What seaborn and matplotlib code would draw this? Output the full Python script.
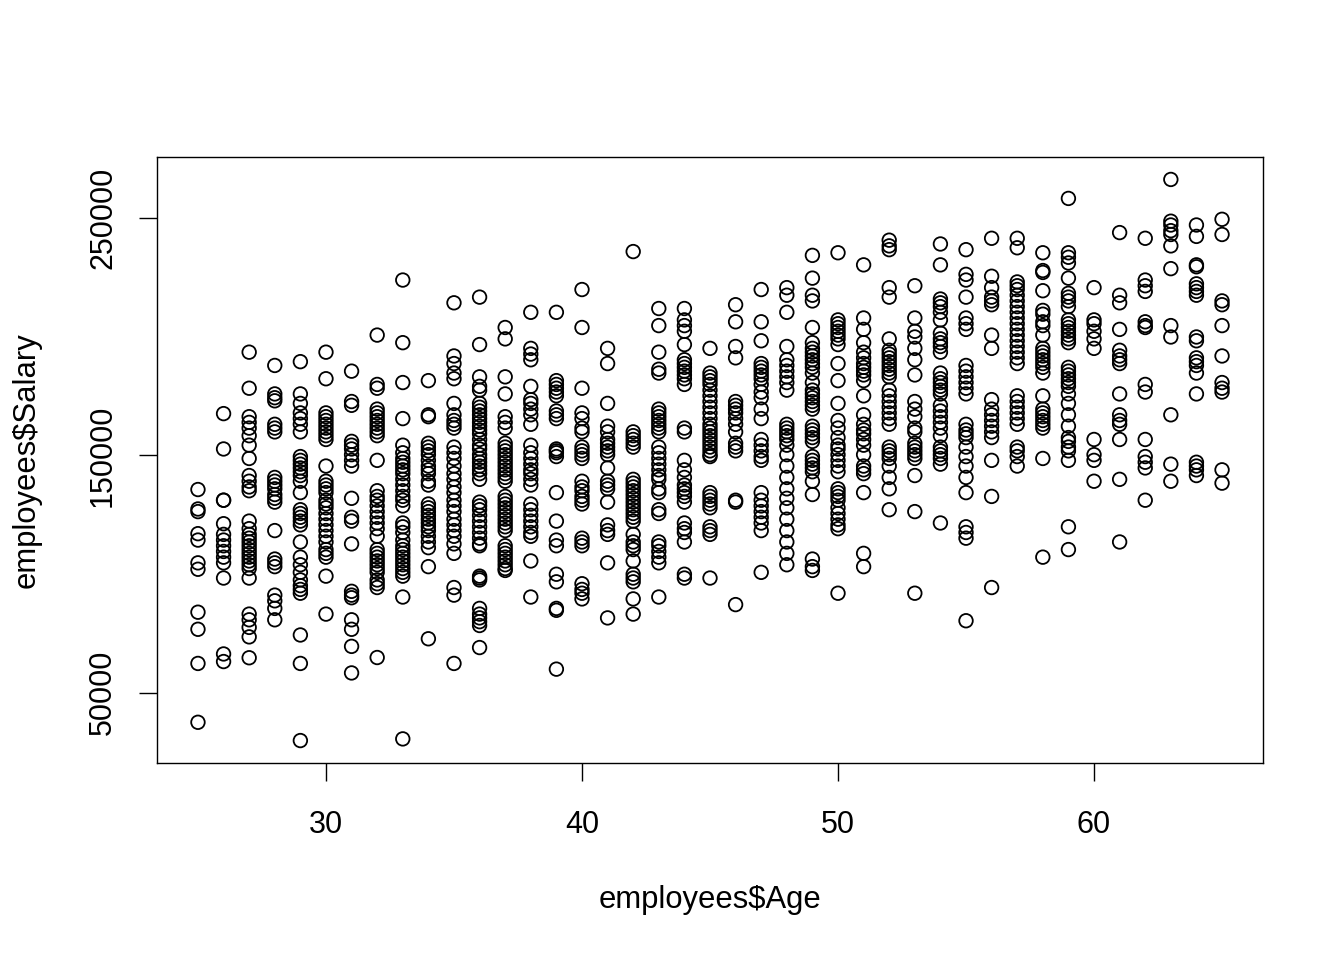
import numpy as np
import pandas as pd
import seaborn as sns
import matplotlib.pyplot as plt

# salaries, one list per age
sal_25 = [135600, 127400, 126300, 117000, 114300, 104700, 102000, 83900, 76700, 62300, 37500]
sal_26 = [167600, 152700, 131100, 131100, 121200, 116700, 114300, 111900, 109500, 107100, 104700, 98300, 66300, 63100]
sal_27 = [193500, 178300, 166300, 163900, 161500, 158300, 154300, 148700, 141500, 139100, 136700, 135100, 122300, 119100,
          116700, 115100, 113500, 111900, 110300, 108700, 107100, 105500, 103900, 102300, 98300, 83100, 80700, 77500, 73500, 64700]
sal_28 = [187900, 175900, 174300, 173000, 163100, 161500, 159900, 140700, 139100, 137500, 135900, 133500, 131900, 130300,
          118300, 106300, 104700, 103100, 91100, 88700, 85500, 80700]
sal_29 = [189500, 175900, 171900, 167900, 165500, 163100, 159900, 149500, 147900, 146300, 144700, 143100, 141500, 139100,
          134300, 127100, 125500, 123900, 122300, 120700, 113500, 107100, 103900, 100700, 97500, 95100, 93500, 91900, 74300, 62300, 29800]
sal_30 = [193500, 182300, 167900, 166300, 164700, 163100, 161500, 159900, 158300, 156700, 145500, 139100, 137500, 135900,
          134300, 131100, 129500, 127900, 125500, 123100, 120700, 118300, 115900, 113500, 110300, 108700, 107100, 99100, 83100]
sal_31 = [185500, 172700, 171100, 155900, 154300, 152700, 150300, 147900, 145500, 131900, 123900, 122300, 112700, 92700,
          91100, 90000, 80700, 76700, 69500, 58300]
sal_32 = [200700, 179900, 178300, 169500, 167900, 166300, 164700, 163100, 161500, 159900, 158300, 147900, 135100, 132700,
          131100, 128700, 126300, 123900, 121500, 119100, 115900, 110300, 108700, 107100, 105500, 103900, 102300, 100700,
          97500, 95900, 94300, 64800]
sal_33 = [223900, 197500, 180700, 165500, 154300, 151100, 148700, 147100, 145500, 143900, 142300, 139900, 137500, 135100,
          132700, 131100, 128700, 121500, 119900, 117500, 114300, 111900, 110300, 108700, 107100, 105500, 103900, 102300,
          100700, 99100, 90300, 30500]
sal_34 = [181500, 167100, 166300, 155100, 153500, 151900, 150300, 147900, 145500, 143900, 142300, 139100, 137500, 129500,
          127900, 126300, 124700, 123100, 121500, 119900, 118300, 115900, 113500, 111100, 103100, 72700]
sal_35 = [214300, 191900, 188700, 184700, 182300, 171900, 167100, 164700, 163100, 161500, 153500, 151100, 148700, 145500,
          142300, 139900, 136700, 134300, 131100, 128700, 126300, 123100, 120700, 118300, 115900, 112700, 108700, 94300, 91100, 62300]
sal_36 = [216700, 196700, 183100, 179100, 177500, 171900, 170300, 168700, 167100, 165500, 163900, 162300, 160700, 159100,
          156700, 154300, 152700, 150300, 148700, 147100, 145500, 143900, 142300, 139900, 130300, 128700, 127100, 124700,
          122300, 119900, 117500, 115100, 112700, 111900, 99100, 98300, 97500, 85500, 83100, 81500, 79900, 78300, 69000]
sal_37 = [203900, 199100, 183100, 175900, 166300, 163900, 161500, 155100, 153500, 151900, 150300, 148700, 147100, 145500,
          143900, 142300, 140700, 139100, 132700, 131100, 129500, 127900, 126300, 124700, 123100, 121500, 119900, 118300,
          111900, 110300, 108700, 107100, 105500, 103900, 102300, 101500]
sal_38 = [210300, 195100, 192700, 190300, 179100, 173500, 171900, 169500, 167100, 163100, 154300, 151100, 148700, 146300,
          143900, 142300, 139900, 137500, 129500, 127100, 124700, 122300, 119900, 117500, 115900, 105500, 90300]
sal_39 = [210300, 181500, 179900, 178300, 176700, 175100, 168700, 167100, 165500, 152700, 151900, 151100, 149500, 134300,
          122300, 114300, 111900, 99900, 96700, 85500, 84700, 59900]
sal_40 = [219900, 203900, 178300, 167900, 165500, 161500, 159900, 153500, 151900, 150300, 148700, 139100, 136700, 135100,
          132700, 131100, 129500, 115100, 113500, 111900, 95900, 93500, 91900, 89500]
sal_41 = [195100, 188700, 171900, 162300, 159900, 156700, 155100, 153500, 151900, 150300, 144700, 139100, 137500, 135900,
          130300, 120700, 118300, 116700, 104700, 81500]
sal_42 = [235900, 159900, 158300, 156700, 155100, 153500, 139900, 138300, 136700, 135100, 133500, 131900, 130300, 128700,
          127100, 125500, 123900, 122300, 116700, 113500, 111900, 110300, 105500, 99900, 98300, 96700, 89500, 83100]
sal_43 = [211900, 204700, 193500, 186300, 184700, 169500, 167900, 166300, 164700, 163100, 161500, 159900, 153500, 151100,
          148700, 146300, 143900, 141500, 139900, 135900, 134300, 127100, 125500, 113500, 111900, 109500, 107100, 104700, 90300]
sal_44 = [211900, 207100, 204700, 202300, 196700, 190300, 188700, 187100, 185500, 183900, 182300, 179900, 161500, 159900,
          147900, 143900, 140700, 137500, 135900, 134300, 132700, 130300, 121500, 119100, 117500, 113500, 99900, 98300]
sal_45 = [195100, 184700, 183100, 181500, 179900, 177500, 175100, 172700, 170300, 167900, 165500, 163100, 161500, 159900,
          158300, 156700, 155100, 153500, 151900, 150300, 149500, 134300, 132700, 131100, 129500, 127900, 119900, 118300,
          116700, 98300]
sal_46 = [213500, 206300, 195900, 191100, 172700, 171100, 169500, 167900, 165500, 163100, 159900, 155100, 153500, 151900,
          131100, 130300, 87100]
sal_47 = [219900, 206300, 198300, 188700, 187100, 185500, 183900, 182300, 179900, 176700, 174300, 169500, 165500, 156700,
          154300, 151900, 149500, 147900, 134300, 131100, 128700, 126300, 123900, 121500, 118300, 100700]
sal_48 = [220700, 217500, 210300, 195900, 190300, 187900, 185500, 183100, 180700, 177500, 163100, 161500, 159900, 158300,
          156700, 154300, 150300, 145500, 140700, 135900, 131900, 127900, 123100, 118300, 113500, 108700, 103900]
sal_49 = [234300, 224700, 217500, 215100, 203900, 197500, 195100, 193500, 191900, 190300, 188700, 187100, 184700, 180700,
          177500, 175900, 174300, 172700, 171100, 169500, 162300, 160700, 159100, 157500, 155900, 149500, 147900, 146300,
          144700, 143100, 139100, 133500, 106300, 103100, 101500]
sal_50 = [235400, 207100, 205500, 203900, 202300, 200700, 199100, 196700, 188700, 181500, 171900, 164700, 161500, 157500,
          154300, 152700, 150300, 147900, 145500, 143100, 135900, 134300, 132700, 131100, 127900, 125500, 123100, 120700,
          119100, 91900]
sal_51 = [230300, 207900, 203100, 197500, 193500, 191100, 188700, 187100, 185500, 183900, 181500, 175100, 167100, 163100,
          160700, 159100, 156700, 154300, 150300, 145500, 143900, 142300, 134300, 108700, 103100]
sal_52 = [240700, 238300, 236700, 220700, 216700, 199100, 194300, 192700, 191100, 189500, 187900, 186300, 184700, 183100,
          177500, 175100, 172700, 170300, 167900, 165500, 163100, 153500, 151900, 150300, 148700, 145500, 140700, 135900, 127100]
sal_53 = [221500, 207900, 202300, 199900, 195100, 190300, 183900, 172700, 169500, 166300, 161500, 159900, 155100, 153500,
          151900, 150300, 148700, 141500, 126300, 91900]
sal_54 = [239100, 230300, 215900, 214300, 212700, 210300, 207100, 201500, 199100, 197500, 195900, 193500, 184700, 182300,
          180700, 179100, 177500, 175900, 171100, 168700, 166300, 163900, 161500, 158300, 153500, 151900, 150300, 148700,
          146300, 121500]
sal_55 = [236700, 226300, 223900, 216700, 207900, 205500, 203100, 187900, 185500, 183100, 180700, 178300, 175900, 163100,
          160700, 159100, 157500, 153500, 149500, 145500, 140700, 134300, 119900, 117500, 115100, 80300]
sal_56 = [241500, 225500, 220700, 216700, 215100, 213500, 200700, 195100, 173500, 169500, 167100, 164700, 162300, 159900,
          157500, 147900, 132700, 94300]
sal_57 = [241500, 237500, 223100, 221500, 219900, 217500, 215100, 212700, 210300, 207900, 205500, 203100, 200700, 198300,
          195900, 193500, 191100, 188700, 175100, 172700, 170300, 167900, 165500, 163100, 153500, 151900, 149500, 145500]
sal_58 = [235400, 227900, 227100, 219400, 211100, 209500, 206300, 204700, 200700, 195100, 193500, 191900, 190300, 188700,
          187100, 184700, 175100, 169500, 167900, 166300, 164700, 163100, 161500, 148700, 107100]
sal_59 = [258300, 235400, 233500, 231100, 224700, 218300, 216700, 215100, 212700, 207100, 205500, 203900, 202300, 200700,
          199100, 197500, 187100, 185500, 183900, 182300, 180700, 179100, 175900, 171900, 167100, 162300, 157500, 155900,
          153500, 151900, 147900, 119900, 110300]
sal_60 = [220700, 207100, 205500, 202300, 199100, 195100, 156700, 150300, 147900, 139100]
sal_61 = [243900, 217500, 214300, 203100, 194300, 191900, 190300, 188700, 175900, 167100, 164700, 163100, 156700, 139900, 113500]
sal_62 = [241500, 223900, 221500, 219100, 206300, 204700, 203900, 179900, 176700, 156700, 149500, 147100, 144700, 131100]
sal_63 = [266300, 248700, 247100, 244700, 243100, 238300, 228700, 204700, 199900, 167100, 146300, 139100]
sal_64 = [247100, 242300, 230300, 229500, 222300, 220700, 219100, 217500, 199900, 198300, 191100, 189500, 187900, 184700,
          175900, 147100, 145500, 143900, 141500]
sal_65 = [249500, 243100, 215100, 213500, 204700, 191900, 180700, 178300, 176700, 143900, 138300]

ages = list(range(25, 66))
salary_lists = [sal_25, sal_26, sal_27, sal_28, sal_29, sal_30, sal_31, sal_32, sal_33, sal_34,
                sal_35, sal_36, sal_37, sal_38, sal_39, sal_40, sal_41, sal_42, sal_43, sal_44,
                sal_45, sal_46, sal_47, sal_48, sal_49, sal_50, sal_51, sal_52, sal_53, sal_54,
                sal_55, sal_56, sal_57, sal_58, sal_59, sal_60, sal_61, sal_62, sal_63, sal_64, sal_65]

x_ticks = [30, 40, 50, 60]
y_ticks = [50000, 150000, 250000]

employees = pd.DataFrame({
    "Age": [a for a, s in zip(ages, salary_lists) for _ in s],
    "Salary": [v for s in salary_lists for v in s],
})

sns.set_style("ticks")
plt.rcParams["font.family"] = ["Liberation Sans", "DejaVu Sans"]

fig = plt.figure(figsize=(13.44, 9.6), dpi=100)
ax = fig.add_axes([157 / 1344, 1 - 763 / 960, (1263 - 157) / 1344, (763 - 157) / 960])

sns.scatterplot(data=employees, x="Age", y="Salary", ax=ax, marker="o", s=95,
                facecolor="none", edgecolor="black", linewidth=1.3)

# R style 4% padding
def pad(lo, hi):
    r = hi - lo
    return lo - 0.04 * r, hi + 0.04 * r

ax.set_xlim(*pad(employees["Age"].min(), employees["Age"].max()))
ax.set_ylim(*pad(employees["Salary"].min(), employees["Salary"].max()))

ax.set_xticks(x_ticks)
ax.set_xticklabels([str(t) for t in x_ticks])
ax.set_yticks(y_ticks)
ax.set_yticklabels([str(t) for t in y_ticks], rotation=90, va="center")

for sp in ax.spines.values():
    sp.set_visible(True)
    sp.set_color("black")
    sp.set_linewidth(1.0)

ax.tick_params(axis="both", length=13, width=1.0, color="black", labelsize=22, labelcolor="black")
ax.tick_params(axis="x", pad=21)
ax.tick_params(axis="y", pad=15)

ax.set_xlabel("")
ax.set_ylabel("")
fig.text(710 / 1344, 1 - 900 / 960, "employees$Age", ha="center", va="center", fontsize=22.3, color="black")
fig.text(27 / 1344, 1 - 460 / 960, "employees$Salary", ha="center", va="center", rotation=90,
         fontsize=22.3, color="black")

fig.savefig("out.png", dpi=100, facecolor="white")
